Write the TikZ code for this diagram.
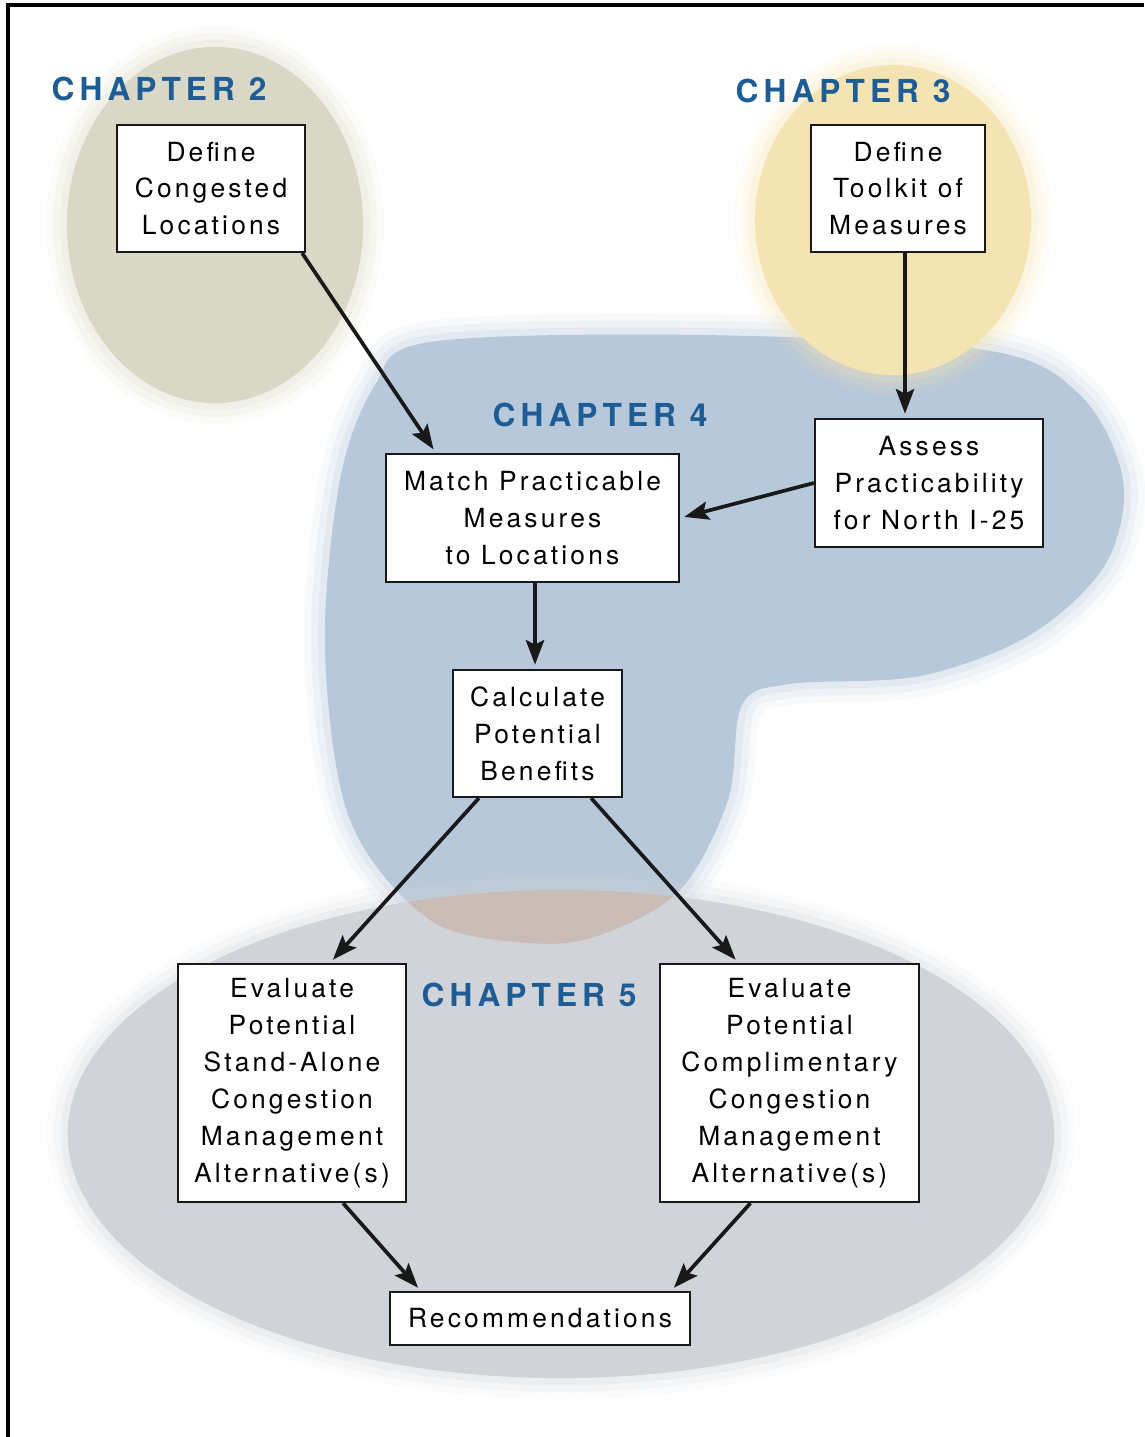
\documentclass[tikz,border=0pt]{standalone}
\usepackage{fontspec}
\setmainfont{TeX Gyre Heros}
\newfontfamily\boxfont[LetterSpace=12]{TeX Gyre Heros}
\newfontfamily\chapfont[LetterSpace=16]{TeX Gyre Heros}
\usepackage{tikz}
\usetikzlibrary{arrows.meta}
\usetikzlibrary{positioning}
\usetikzlibrary{calc}

\definecolor{chapblue}{RGB}{30,92,150}
\definecolor{oliveblob}{RGB}{217,215,197}
\definecolor{yellowblob}{RGB}{245,228,179}
\definecolor{blueblob}{RGB}{183,200,219}
\definecolor{greyblob}{RGB}{208,211,215}
\definecolor{lensblob}{RGB}{201,187,181}
\definecolor{arrowblack}{RGB}{25,25,25}

% soft edged fill: colour, path
\newcommand{\softfill}[2]{%
  \foreach \w/\o in {12pt/0.10,8pt/0.15,4pt/0.22}{\draw[#1,opacity=\o,line width=\w] #2;}
  \fill[#1] #2;}

\def\chtwo{(215,225) ellipse [x radius=1.48cm,y radius=1.78cm]}
\def\chthree{(893,220) ellipse [x radius=1.38cm,y radius=1.55cm]}
\def\chfour{plot[smooth cycle,tension=0.55] coordinates{(430,342) (700,335) (985,350) (1080,395) (1123,480) (1105,565) (1030,635) (920,676) (790,684) (742,705) (728,800) (680,890) (600,935) (530,943) (430,920) (350,820) (325,650) (340,480) (375,385)}}
\def\chfive{(561,1134) ellipse [x radius=4.93cm,y radius=2.44cm]}

\begin{document}
\begin{tikzpicture}[x=0.01cm,y=-0.01cm,
  every node/.style={draw=arrowblack,fill=white,line width=0.6pt,align=center,inner sep=0pt,
    font=\boxfont\fontsize{7.5}{10.5}\selectfont},
  chap/.style={draw=none,fill=none,text=chapblue,font=\chapfont\bfseries\fontsize{9}{10}\selectfont},
  flow/.style={line width=1.05pt,draw=arrowblack,-{Stealth[length=7pt,width=5.2pt,inset=1.3pt]},shorten >=1.2pt}]
  \useasboundingbox (0,0) rectangle (1144,1437);

  % chapter areas
  \softfill{blueblob}{\chfour}
  \softfill{yellowblob}{\chthree}
  \softfill{oliveblob}{\chtwo}
  \softfill{greyblob}{\chfive}
  \begin{scope}
    \clip \chfive;
    \fill[lensblob] \chfour;
  \end{scope}

  \draw[line width=1.2pt] (8,1437) -- (8,5) -- (1144,5);

  \node[chap] (chaptwo) at (159,89) {CHAPTER 2};
  \node[chap] (chapthree) at (843,91) {CHAPTER 3};
  \node[chap] (chapfour) at (600,415) {CHAPTER 4};
  \node[chap] (chapfive) at (529,995) {CHAPTER 5};

  \node[minimum width=1.88cm,minimum height=1.27cm] (cong) at (211,188.5) {Define\\Congested\\Locations};
  \node[minimum width=1.74cm,minimum height=1.27cm] (tool) at (898,188.5) {Define\\Toolkit of\\Measures};
  \node[minimum width=2.93cm,minimum height=1.28cm] (match) at (532.5,518) {Match Practicable\\Measures\\to Locations};
  \node[minimum width=2.28cm,minimum height=1.28cm] (assess) at (929,483) {Assess\\Practicability\\for North I-25};
  \node[minimum width=1.69cm,minimum height=1.27cm] (calc) at (537.5,733.5) {Calculate\\Potential\\Benefits};
  \node[minimum width=2.28cm,minimum height=2.38cm] (evall) at (292,1083) {Evaluate\\Potential\\Stand-Alone\\Congestion\\Management\\Alternative(s)};
  \node[minimum width=2.59cm,minimum height=2.38cm] (evalr) at (789.5,1083) {Evaluate\\Potential\\Complimentary\\Congestion\\Management\\Alternative(s)};
  \node[minimum width=3.0cm,minimum height=0.53cm] (rec) at (540,1318.5) {Recommendations};

  \draw[flow] ([xshift=-0.04cm]cong.south east) -- ([xshift=0.51cm]match.north west);
  \draw[flow] ([xshift=0.07cm]tool.south) -- ([xshift=0.07cm]tool.south |- assess.north);
  \draw[flow] (assess.west) -- (match.east);
  \draw[flow] ([xshift=0.025cm]match.south) -- ([xshift=0.025cm]match.south |- calc.north);
  \draw[flow] ([xshift=0.27cm]calc.south west) -- ([xshift=0.38cm]evall.north);
  \draw[flow] ([xshift=-0.32cm]calc.south east) -- ([xshift=-0.51cm]evalr.north);
  \draw[flow] ([xshift=0.51cm]evall.south) -- ([xshift=0.32cm]rec.north west);
  \draw[flow] ([xshift=-0.39cm]evalr.south) -- ([xshift=-0.2cm]rec.north east);
\end{tikzpicture}
\end{document}
